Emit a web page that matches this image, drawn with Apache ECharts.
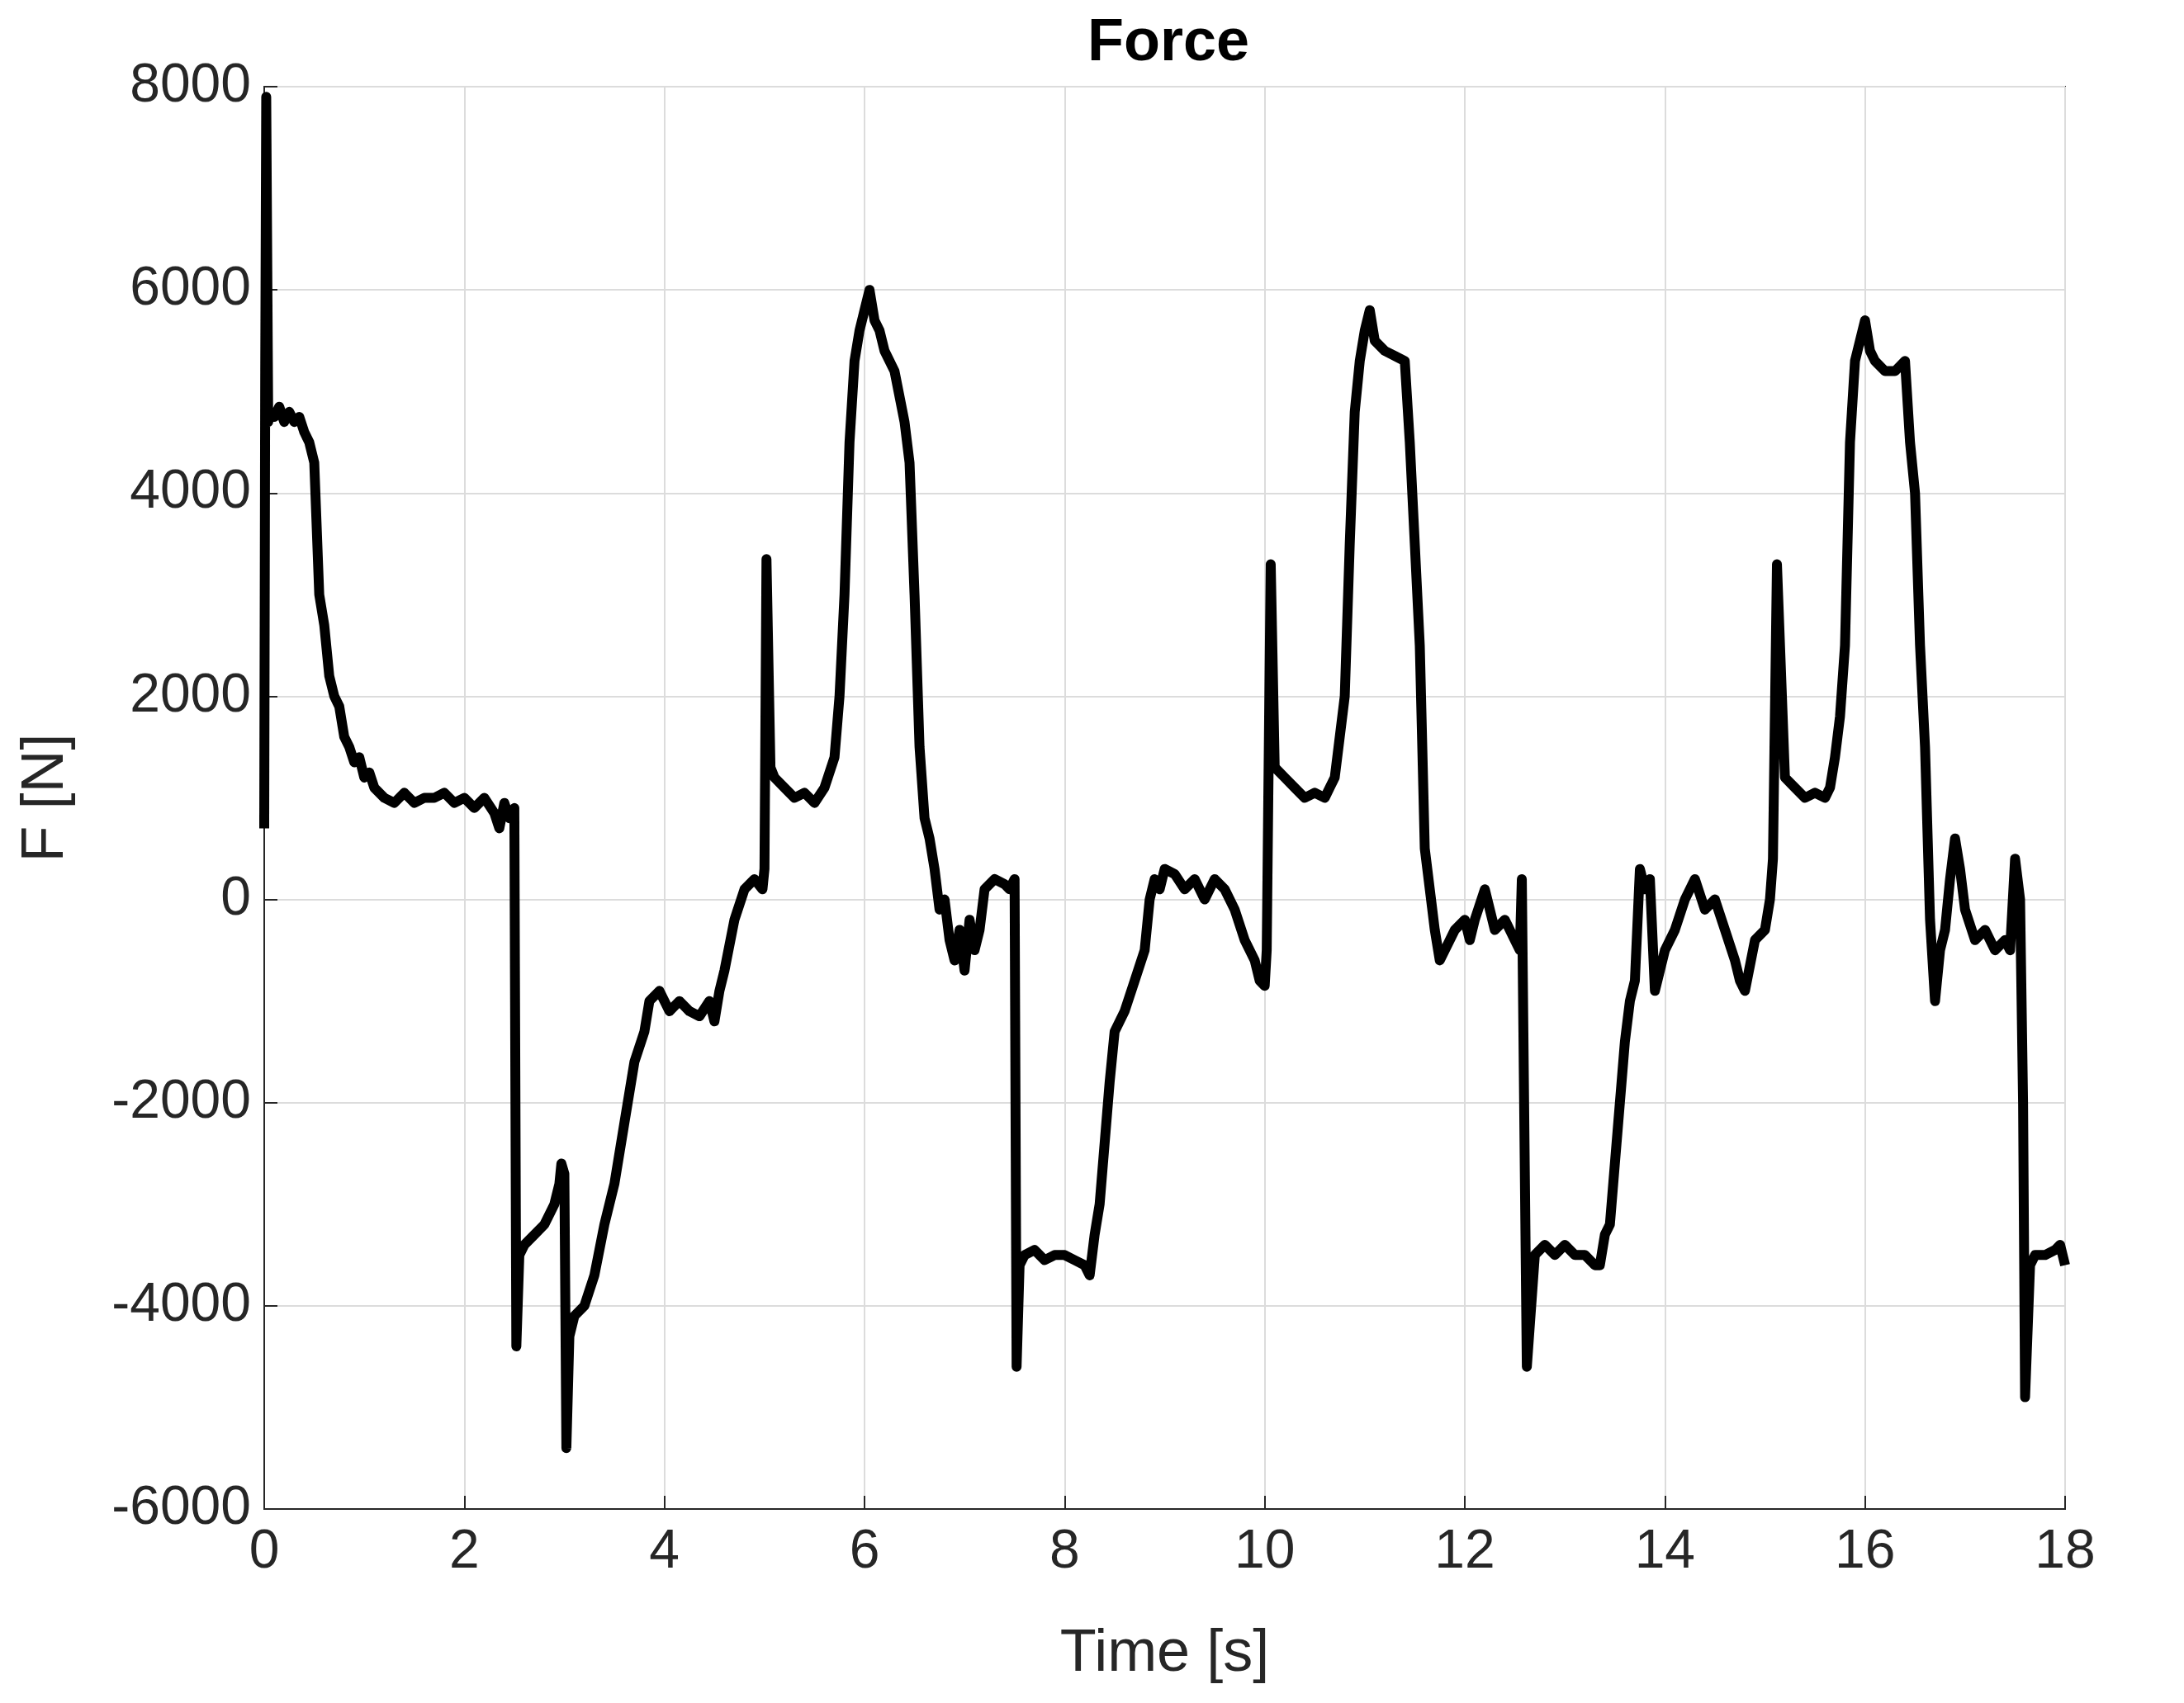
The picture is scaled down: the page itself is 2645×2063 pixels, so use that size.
<!DOCTYPE html>
<html><head><meta charset="utf-8">
<script src="https://cdn.jsdelivr.net/npm/echarts@6/dist/echarts.min.js"></script>
<style>html,body{margin:0;padding:0;background:#fff}#c{width:2645px;height:2063px}</style>
</head><body><div id="c"></div>
<script>
const times = [0,0.01,0.02,0.04,0.06,0.1,0.15,0.2,0.25,0.3,0.35,0.4,0.45,0.5,0.55,0.6,0.65,0.7,0.75,0.8,0.85,0.9,0.95,1.0,1.05,1.1,1.2,1.3,1.4,1.5,1.6,1.7,1.8,1.9,2.0,2.1,2.2,2.3,2.35,2.4,2.45,2.5,2.52,2.55,2.6,2.7,2.8,2.9,2.95,2.97,3.0,3.02,3.05,3.1,3.2,3.3,3.4,3.5,3.6,3.7,3.8,3.85,3.95,4.05,4.15,4.25,4.35,4.45,4.5,4.55,4.6,4.7,4.8,4.9,4.98,5.0,5.02,5.06,5.1,5.2,5.3,5.4,5.5,5.6,5.7,5.75,5.8,5.85,5.9,5.95,6.0,6.05,6.1,6.15,6.2,6.3,6.4,6.45,6.5,6.55,6.6,6.65,6.7,6.75,6.8,6.85,6.9,6.95,7.0,7.05,7.1,7.15,7.2,7.3,7.4,7.45,7.5,7.52,7.55,7.6,7.7,7.8,7.9,8.0,8.1,8.2,8.25,8.3,8.35,8.4,8.45,8.5,8.6,8.7,8.8,8.85,8.9,8.95,9.0,9.1,9.2,9.3,9.4,9.5,9.6,9.7,9.8,9.9,9.95,10.0,10.02,10.06,10.1,10.2,10.3,10.4,10.5,10.6,10.65,10.7,10.75,10.8,10.85,10.9,10.95,11.0,11.05,11.1,11.2,11.3,11.4,11.45,11.5,11.55,11.6,11.65,11.7,11.75,11.8,11.9,12.0,12.05,12.1,12.2,12.3,12.4,12.5,12.55,12.57,12.62,12.7,12.8,12.9,13.0,13.1,13.2,13.3,13.35,13.4,13.45,13.5,13.55,13.6,13.65,13.7,13.75,13.8,13.85,13.9,14.0,14.1,14.2,14.3,14.4,14.5,14.6,14.7,14.75,14.8,14.9,15.0,15.05,15.08,15.12,15.2,15.3,15.4,15.5,15.6,15.65,15.7,15.75,15.8,15.85,15.9,15.95,16.0,16.05,16.1,16.2,16.3,16.4,16.45,16.5,16.55,16.6,16.65,16.7,16.75,16.8,16.85,16.9,16.95,17.0,17.1,17.2,17.3,17.4,17.45,17.5,17.55,17.58,17.6,17.65,17.7,17.8,17.9,17.95,18.0];
const force = [700,5200,7900,4700,4800,4750,4850,4700,4800,4700,4750,4600,4500,4300,3000,2700,2200,2000,1900,1600,1500,1350,1400,1200,1250,1100,1000,950,1050,950,1000,1000,1050,950,1000,900,1000,850,700,950,800,900,-4400,-3500,-3400,-3300,-3200,-3000,-2800,-2600,-2700,-5400,-4300,-4100,-4000,-3700,-3200,-2800,-2200,-1600,-1300,-1000,-900,-1100,-1000,-1100,-1150,-1000,-1200,-900,-700,-200,100,200,100,300,3350,1300,1200,1100,1000,1050,950,1100,1400,2000,3000,4500,5300,5600,5800,6000,5700,5600,5400,5200,4700,4300,3000,1500,800,600,300,-100,0,-400,-600,-300,-700,-200,-500,-300,100,200,150,100,200,-4600,-3600,-3500,-3450,-3550,-3500,-3500,-3550,-3600,-3700,-3300,-3000,-2400,-1800,-1300,-1100,-800,-500,0,200,100,300,250,100,200,0,200,100,-100,-400,-600,-800,-850,-500,3300,1300,1200,1100,1000,1050,1000,1100,1200,1600,2000,3500,4800,5300,5600,5800,5500,5400,5350,5300,4500,3500,2500,500,100,-300,-600,-500,-300,-200,-400,-200,100,-300,-200,-400,-500,200,-4600,-3500,-3400,-3500,-3400,-3500,-3500,-3600,-3600,-3300,-3200,-2600,-2000,-1400,-1000,-800,300,100,200,-900,-500,-300,0,200,-100,0,-300,-600,-800,-900,-400,-300,0,400,3300,1200,1100,1000,1050,1000,1100,1400,1800,2500,4500,5300,5500,5700,5400,5300,5200,5200,5300,4500,4000,2500,1500,-200,-1000,-500,-300,200,600,300,-100,-400,-300,-500,-400,-500,400,0,-2000,-4900,-3600,-3500,-3500,-3450,-3400,-3600];
const xTicks = [0,2,4,6,8,10,12,14,16,18];
const yTicks = [-6000,-4000,-2000,0,2000,4000,6000,8000];
const data = times.map((t,i)=>[t,force[i]]);
const ch = echarts.init(document.getElementById('c'));
const font = 'Arial, Liberation Sans, sans-serif';
ch.setOption({
  animation:false,
  backgroundColor:'#fff',
  title:{text:'Force',left:1410,top:12,textAlign:'center',textStyle:{fontFamily:font,fontWeight:'bold',fontSize:72,color:'#000'}},
  grid:{left:320,right:144,top:105,bottom:235,containLabel:false,outerBoundsMode:'none',show:true,borderColor:'#262626',borderWidth:2},
  xAxis:{type:'value',min:0,max:18,interval:2,name:'Time [s]',nameLocation:'middle',nameGap:140,
    nameTextStyle:{fontFamily:font,fontSize:72,color:'#262626'},
    axisLine:{onZero:false,lineStyle:{color:'#262626',width:2}},axisTick:{inside:true,length:16,lineStyle:{color:'#262626',width:2}},
    axisLabel:{fontFamily:font,fontSize:66,color:'#262626',margin:20,formatter:v=>String(v)},
    splitLine:{lineStyle:{color:'#dcdcdc',width:2}}},
  yAxis:{type:'value',min:-6000,max:8000,interval:2000,name:'F [N]',nameLocation:'middle',nameGap:228,
    nameTextStyle:{fontFamily:font,fontSize:72,color:'#262626'},
    axisLine:{lineStyle:{color:'#262626',width:2}},axisTick:{inside:true,length:16,lineStyle:{color:'#262626',width:2}},
    axisLabel:{fontFamily:font,fontSize:66,color:'#262626',margin:16,formatter:v=>String(v)},
    splitLine:{lineStyle:{color:'#dcdcdc',width:2}}},
  series:[{type:'line',data:data,showSymbol:false,lineStyle:{color:'#000',width:12,join:'round'}}]
});
</script></body></html>
